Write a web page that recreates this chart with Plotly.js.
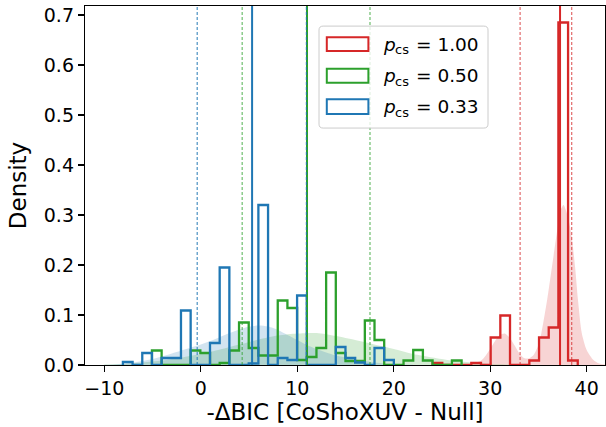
<!DOCTYPE html>
<html>
<head>
<meta charset="utf-8">
<script src="https://cdn.plot.ly/plotly-3.0.1.min.js"></script>
<style>html,body{margin:0;padding:0;background:#fff;}#chart{width:606px;height:427px;}</style>
</head>
<body>
<div id="chart"></div>
<script>
// ---------- data ----------
const binWidth = 1.003;
// step histograms (density), one value per bin, starting at the given left edge
const redStart = 24.03;
const redDensity = [0.004, 0, 0, 0, 0.004, 0, 0.055, 0.099, 0, 0, 0.009, 0.055, 0.075, 0.685, 0.009];
const greenStart = -5.06;
const greenDensity = [0.029, 0, 0, 0, 0.029, 0.024, 0, 0.004, 0.029, 0.085, 0.034, 0.019, 0.019, 0.129, 0.114, 0.01,
  0.016, 0.034, 0.185, 0.024, 0.008, 0.008, 0.089, 0.05, 0, 0, 0.009, 0.03, 0.009, 0, 0, 0.009];
const blueStart = -8.07;
const blueDensity = [0.006, 0, 0.024, 0, 0.014, 0.014, 0.109, 0, 0, 0.044, 0.195, 0, 0, 0.003, 0.32, 0,
  0.014, 0.01, 0.139, 0, 0, 0, 0.036, 0.014, 0.005, 0, 0.034, 0.01];

// smoothed density curves (filled)
const redKdeX = [27, 28, 29, 29.5, 30, 30.5, 31, 31.5, 32, 32.5, 33, 33.5, 34, 34.5, 35, 35.3, 35.9, 36.4, 36.9, 37.3, 37.6, 38, 38.4, 38.8, 39.1, 39.5, 40, 40.7, 41.3, 41.9];
const redKdeY = [0.0005, 0.002, 0.008, 0.018, 0.032, 0.048, 0.06, 0.063, 0.055, 0.04, 0.024, 0.014, 0.013, 0.02, 0.04, 0.063, 0.13, 0.196, 0.263, 0.31, 0.32, 0.3, 0.263, 0.196, 0.13, 0.063, 0.03, 0.01, 0.003, 0.001];
const greenKdeX = [-10, -8, -6, -4, -2, 0, 2, 4, 6, 8, 10, 12, 14, 16, 18, 20, 22, 24, 26, 28, 30, 32, 34];
const greenKdeY = [0.001, 0.002, 0.005, 0.009, 0.015, 0.022, 0.031, 0.041, 0.051, 0.059, 0.063, 0.064, 0.058, 0.05, 0.041, 0.032, 0.022, 0.015, 0.009, 0.005, 0.002, 0.001, 0.0003];
const blueKdeX = [-10, -9, -8, -7, -6, -5, -4, -3, -2, -1, 0, 1, 2, 3, 4, 5, 6, 7, 8, 9, 10, 11, 12, 13, 14, 15, 16, 17, 18, 19, 20, 21, 22];
const blueKdeY = [0.0005, 0.001, 0.003, 0.005, 0.008, 0.012, 0.017, 0.023, 0.029, 0.035, 0.041, 0.048, 0.056, 0.064, 0.071, 0.077, 0.079, 0.077, 0.07, 0.06, 0.05, 0.04, 0.032, 0.025, 0.019, 0.015, 0.011, 0.008, 0.005, 0.003, 0.002, 0.001, 0.0005];

// reference lines
const redSolid = 37.24, greenSolid = 11.01, blueSolid = 5.32;
const redDashed = [33.1, 38.45];
const greenDashed = [4.29, 17.54];
const blueDashed = [-0.37, 10.95];

// legend labels: italic symbol, subscript, value part
const legendSymbol = 'p';
const legendSub = 'cs';
const legendValues = ['= 1.00', '= 0.50', '= 0.33'];

// ---------- styling ----------
const RED = '#d62728', GREEN = '#2ca02c', BLUE = '#1f77b4';
const FONT = 'DejaVu Sans';

function stepTrace(start, dens, color) {
  const xs = [start], ys = [0];
  for (let i = 0; i < dens.length; i++) { xs.push(start + i * binWidth); ys.push(dens[i]); }
  xs.push(start + dens.length * binWidth); ys.push(0);
  return {x: xs, y: ys, type: 'scatter', mode: 'lines', line: {shape: 'hv', color: color, width: 2.3}, hoverinfo: 'skip', showlegend: false};
}
function kdeTrace(xs, ys, rgba) {
  return {x: xs, y: ys, type: 'scatter', mode: 'lines', fill: 'tozeroy', fillcolor: rgba,
    line: {width: 0, shape: 'spline', smoothing: 0.7, color: rgba}, hoverinfo: 'skip', showlegend: false};
}

const traces = [
  kdeTrace(redKdeX, redKdeY, 'rgba(214,39,40,0.2)'),
  kdeTrace(greenKdeX, greenKdeY, 'rgba(44,160,44,0.2)'),
  kdeTrace(blueKdeX, blueKdeY, 'rgba(31,119,180,0.2)'),
  stepTrace(redStart, redDensity, RED),
  stepTrace(greenStart, greenDensity, GREEN),
  stepTrace(blueStart, blueDensity, BLUE)
];

const shapes = [];
function vline(x, color, width, dash, opacity) {
  shapes.push({type: 'line', xref: 'x', yref: 'paper', x0: x, x1: x, y0: 0, y1: 1, layer: 'above',
    opacity: opacity, line: {color: color, width: width, dash: dash}});
}
redDashed.forEach(v => vline(v, RED, 1.1, '3px,2px', 0.75));
greenDashed.forEach(v => vline(v, GREEN, 1.1, '3px,2px', 0.75));
vline(redSolid, RED, 2, 'solid', 1);
vline(greenSolid, GREEN, 2, 'solid', 1);
vline(blueSolid, BLUE, 2, 'solid', 1);
blueDashed.forEach(v => vline(v, BLUE, 1.2, '3px,2px', 0.8));

// legend (manual, paper coordinates) with rounded frame
function roundRect(x0, y0, x1, y1, rx, ry) {
  return `M${x0 + rx},${y0} L${x1 - rx},${y0} Q${x1},${y0} ${x1},${y0 + ry} L${x1},${y1 - ry} Q${x1},${y1} ${x1 - rx},${y1} ` +
    `L${x0 + rx},${y1} Q${x0},${y1} ${x0},${y1 - ry} L${x0},${y0 + ry} Q${x0},${y0} ${x0 + rx},${y0} Z`;
}
shapes.push({type: 'path', xref: 'paper', yref: 'paper', path: roundRect(0.450, 0.660, 0.775, 0.944, 0.008, 0.011),
  layer: 'above', fillcolor: 'rgba(255,255,255,0.8)', line: {color: '#cccccc', width: 1}});
const legColors = [RED, GREEN, BLUE];
const legY = [[0.875, 0.913], [0.786, 0.825], [0.699, 0.740]];
const legTextY = [0.894, 0.806, 0.720];
const annotations = [];
for (let i = 0; i < 3; i++) {
  shapes.push({type: 'rect', xref: 'paper', yref: 'paper', x0: 0.465, x1: 0.545, y0: legY[i][0], y1: legY[i][1],
    layer: 'above', fillcolor: 'rgba(0,0,0,0)', line: {color: legColors[i], width: 2}});
  annotations.push({xref: 'paper', yref: 'paper', x: 0.5715, y: legTextY[i], xanchor: 'left', yanchor: 'middle',
    text: legendSymbol, showarrow: false, borderpad: 0, font: {family: FONT, size: 18.5, color: '#000', style: 'italic'}});
  annotations.push({xref: 'paper', yref: 'paper', x: 0.5950, y: legTextY[i] - 0.0156, xanchor: 'left', yanchor: 'middle',
    text: legendSub, showarrow: false, borderpad: 0, font: {family: FONT, size: 13, color: '#000'}});
  annotations.push({xref: 'paper', yref: 'paper', x: 0.6345, y: legTextY[i], xanchor: 'left', yanchor: 'middle',
    text: legendValues[i], showarrow: false, borderpad: 0, font: {family: FONT, size: 18.5, color: '#000'}});
}

const layout = {
  width: 606, height: 427,
  margin: {l: 85, r: 1, t: 6, b: 62, pad: 0},
  paper_bgcolor: '#fff', plot_bgcolor: '#fff',
  showlegend: false,
  font: {family: FONT, color: '#000'},
  xaxis: {
    range: [-12, 41.9], dtick: 10, tick0: 0, ticks: 'outside', ticklen: 6, tickwidth: 1.2, tickcolor: '#000',
    showline: true, mirror: true, linecolor: '#000', linewidth: 1.2, zeroline: false, showgrid: false,
    tickfont: {family: FONT, size: 19, color: '#000'},
    title: {text: '-ΔBIC [CoShoXUV - Null]', font: {family: FONT, size: 23, color: '#000'}, standoff: 0}
  },
  yaxis: {
    range: [0, 0.718], dtick: 0.1, tick0: 0, tickformat: '.1f', ticks: 'outside', ticklen: 6, tickwidth: 1.2, tickcolor: '#000',
    showline: true, mirror: true, linecolor: '#000', linewidth: 1.2, zeroline: false, showgrid: false,
    tickfont: {family: FONT, size: 19, color: '#000'},
    title: {text: 'Density', font: {family: FONT, size: 23, color: '#000'}, standoff: 10}
  },
  shapes: shapes,
  annotations: annotations
};

Plotly.newPlot('chart', traces, layout, {displayModeBar: false, staticPlot: true});
</script>
</body>
</html>
